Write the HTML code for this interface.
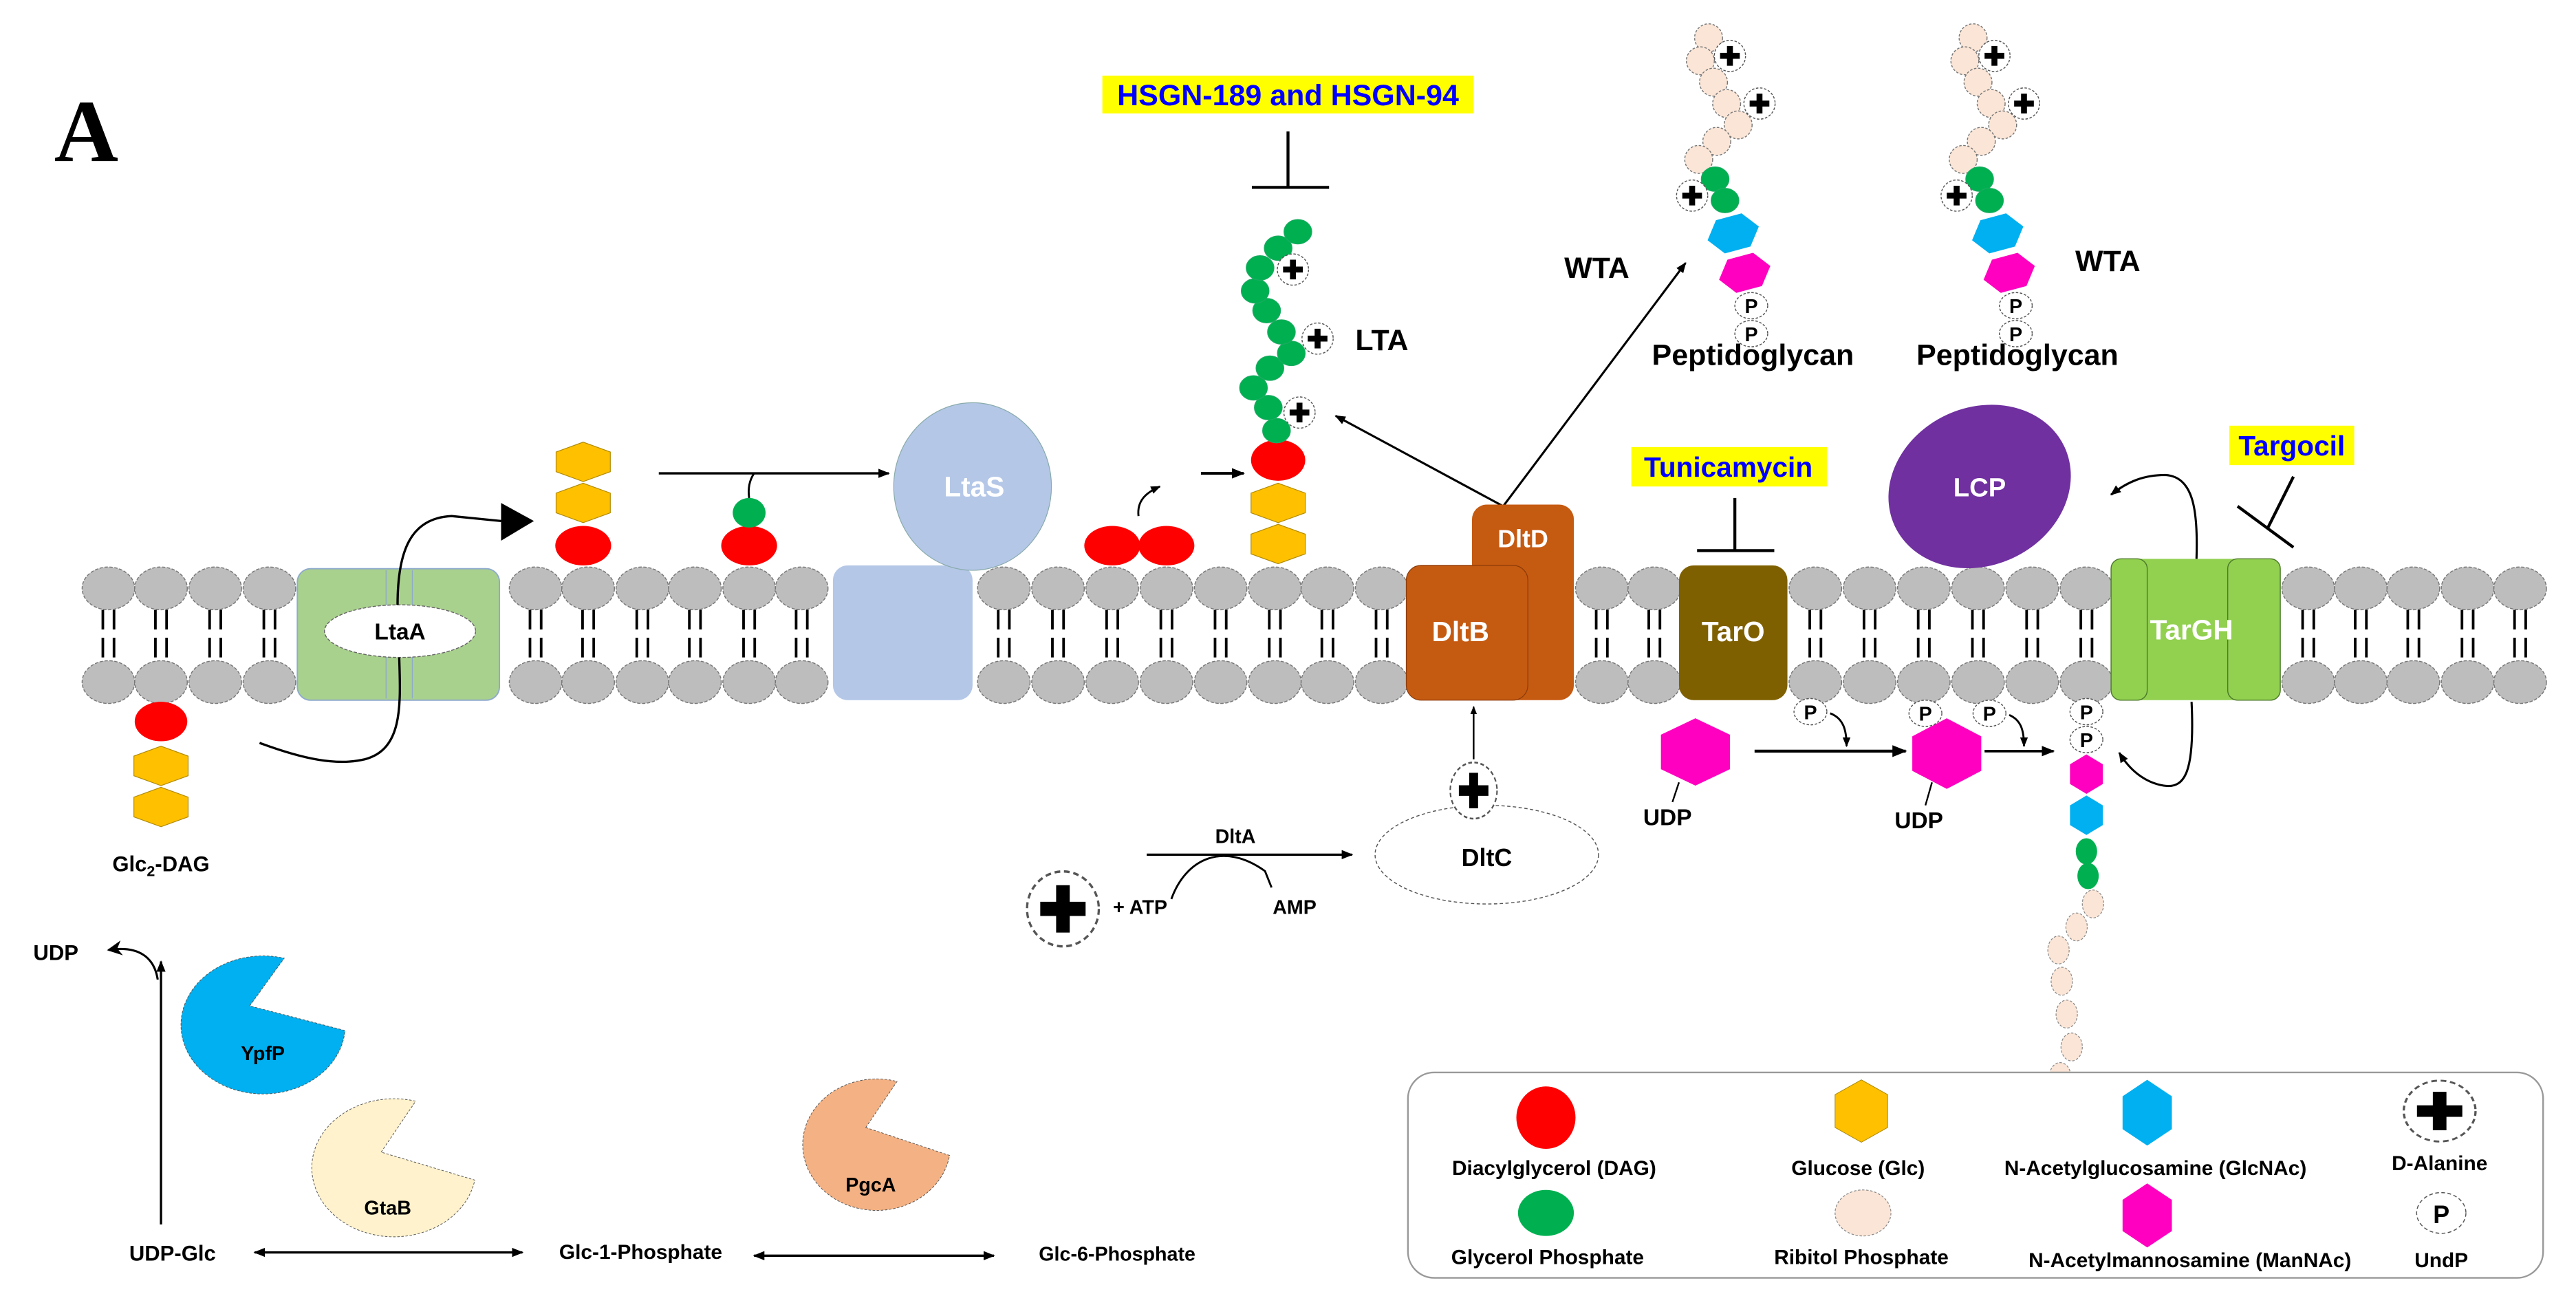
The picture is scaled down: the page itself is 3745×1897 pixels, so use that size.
<!DOCTYPE html>
<html><head><meta charset="utf-8"><style>
html,body{margin:0;padding:0;background:#fff;}
svg{display:block;}
text{font-family:"Liberation Sans",Arial,sans-serif;font-weight:bold;}
</style></head><body>
<svg width="3745" height="1897" viewBox="0 0 1568 794" preserveAspectRatio="none" xmlns="http://www.w3.org/2000/svg">
<defs>
<marker id="ar" viewBox="0 0 10 10" refX="9" refY="5" markerWidth="5" markerHeight="5" orient="auto"><path d="M0,1 L10,5 L0,9 z" fill="#000"/></marker>
<marker id="ar2" viewBox="0 0 10 10" refX="9" refY="5" markerWidth="7" markerHeight="7" orient="auto"><path d="M0,0 L10,5 L0,10 L3,5 z" fill="#000"/></marker>
<marker id="al" viewBox="0 0 10 10" refX="1" refY="5" markerWidth="5" markerHeight="5" orient="auto"><path d="M10,1 L0,5 L10,9 z" fill="#000"/></marker>
<g id="lip">
<line x1="-3.4" y1="-13" x2="-3.4" y2="-1" stroke="#000" stroke-width="1.6"/>
<line x1="3.4" y1="-13" x2="3.4" y2="-1" stroke="#000" stroke-width="1.6"/>
<line x1="-3.4" y1="4" x2="-3.4" y2="16" stroke="#000" stroke-width="1.6"/>
<line x1="3.4" y1="4" x2="3.4" y2="16" stroke="#000" stroke-width="1.6"/>
<ellipse cx="0" cy="-26" rx="16" ry="13" fill="#bdbdbd" stroke="#777" stroke-width="0.6" stroke-dasharray="2,1"/>
<ellipse cx="0" cy="31" rx="16" ry="13" fill="#bdbdbd" stroke="#777" stroke-width="0.6" stroke-dasharray="2,1"/>
</g>
<g id="hexY"><polygon points="0,-12 16.5,-6 16.5,6 0,12 -16.5,6 -16.5,-6" fill="#ffc000" stroke="#b08a00" stroke-width="0.5"/></g>
<g id="dala"><circle r="9.5" fill="#fff" stroke="#555" stroke-width="0.6" stroke-dasharray="1.5,1"/><path d="M-1.8,-6 h3.6 v4.2 h4.2 v3.6 h-4.2 v4.2 h-3.6 v-4.2 h-4.2 v-3.6 h4.2 z" fill="#000"/></g>
<g id="rib"><circle r="8.5" fill="#fbe5d6" stroke="#777" stroke-width="0.6" stroke-dasharray="1.5,1"/></g>
<g id="grn"><ellipse rx="8.5" ry="7.5" fill="#00b050" stroke="#2a6" stroke-width="0.4"/></g>
<g id="pc"><ellipse rx="10" ry="8" fill="#fff" stroke="#555" stroke-width="0.6" stroke-dasharray="1.5,1"/><text y="4.5" font-size="12" text-anchor="middle">P</text></g>
<polygon id="hexH" points="-17,0 -8.5,-11 8.5,-11 17,0 8.5,11 -8.5,11"/>
</defs>

<text x="33" y="98" font-size="54" style="font-family:'Liberation Serif',serif">A</text>

<g transform="translate(0,384)">
<use href="#lip" x="66"/><use href="#lip" x="98"/><use href="#lip" x="131"/><use href="#lip" x="164"/>
<use href="#lip" x="326"/><use href="#lip" x="358"/><use href="#lip" x="391"/><use href="#lip" x="423"/><use href="#lip" x="456"/><use href="#lip" x="488"/>
<use href="#lip" x="611"/><use href="#lip" x="644"/><use href="#lip" x="677"/><use href="#lip" x="710"/><use href="#lip" x="743"/><use href="#lip" x="776"/><use href="#lip" x="808"/><use href="#lip" x="841"/>
<use href="#lip" x="975"/><use href="#lip" x="1007"/>
<use href="#lip" x="1105"/><use href="#lip" x="1138"/><use href="#lip" x="1171"/><use href="#lip" x="1204"/><use href="#lip" x="1237"/><use href="#lip" x="1270"/>
<use href="#lip" x="1405"/><use href="#lip" x="1437"/><use href="#lip" x="1469"/><use href="#lip" x="1502"/><use href="#lip" x="1534"/>
</g>

<rect x="181" y="346" width="123" height="80" rx="8" fill="#a9d18e" stroke="#8eaacc" stroke-width="0.8"/>
<line x1="235" y1="347" x2="235" y2="425" stroke="#8eaacc" stroke-width="0.6"/>
<line x1="251" y1="347" x2="251" y2="425" stroke="#8eaacc" stroke-width="0.6"/>
<ellipse cx="243.5" cy="384" rx="46" ry="16" fill="#fff" stroke="#666" stroke-width="0.6" stroke-dasharray="2,1"/>
<text x="243.5" y="389" font-size="14" text-anchor="middle">LtaA</text>
<path d="M158,452 C185,462 205,466 222,462 C245,456 244,430 243,400" fill="none" stroke="#000" stroke-width="1.4"/>
<path d="M242,368 C242,335 250,315 275,314 L305,317" fill="none" stroke="#000" stroke-width="1.4"/>
<polygon points="305,306 325,317 305,329" fill="#000"/>

<ellipse cx="98" cy="439" rx="16" ry="12" fill="#f00"/>
<use href="#hexY" x="98" y="466"/><use href="#hexY" x="98" y="491"/>
<text x="98" y="530" font-size="13" text-anchor="middle">Glc<tspan font-size="9" dy="3">2</tspan><tspan dy="-3">-DAG</tspan></text>

<ellipse cx="355" cy="332" rx="17" ry="12" fill="#f00"/>
<use href="#hexY" x="355" y="306"/><use href="#hexY" x="355" y="281"/>
<ellipse cx="456" cy="332" rx="17" ry="12" fill="#f00"/>
<ellipse cx="456" cy="312" rx="10" ry="9" fill="#00b050"/>
<line x1="401" y1="288" x2="541" y2="288" stroke="#000" stroke-width="1.4" marker-end="url(#ar)"/>
<path d="M456,303 C455,296 457,291 459,288" fill="none" stroke="#000" stroke-width="1.2"/>

<rect x="507" y="344" width="85" height="82" rx="9" fill="#b4c7e7"/>
<ellipse cx="592" cy="296" rx="48" ry="51" fill="#b4c7e7" stroke="#8aa" stroke-width="0.5"/>
<text x="593" y="302" font-size="17" fill="#fff" text-anchor="middle">LtaS</text>

<ellipse cx="677" cy="332" rx="17" ry="12" fill="#f00"/>
<ellipse cx="710" cy="332" rx="17" ry="12" fill="#f00"/>
<path d="M693,314 C692,305 697,300 706,296" fill="none" stroke="#000" stroke-width="1.2" marker-end="url(#ar)"/>
<line x1="731" y1="288" x2="757" y2="288" stroke="#000" stroke-width="1.6" marker-end="url(#ar)"/>

<ellipse cx="778" cy="280" rx="16.5" ry="12.5" fill="#f00"/>
<use href="#hexY" x="778" y="306"/><use href="#hexY" x="778" y="331"/>
<use href="#grn" x="777" y="262"/><use href="#grn" x="772" y="248"/><use href="#grn" x="763" y="236"/><use href="#grn" x="773" y="224"/><use href="#grn" x="786" y="215"/><use href="#grn" x="780" y="202"/><use href="#grn" x="771" y="189"/><use href="#grn" x="764" y="177"/><use href="#grn" x="767" y="163"/><use href="#grn" x="778" y="151"/><use href="#grn" x="790" y="141"/>
<use href="#dala" x="787" y="164"/><use href="#dala" x="802" y="206"/><use href="#dala" x="791" y="251"/>
<text x="825" y="213" font-size="18">LTA</text>

<rect x="671" y="46" width="226" height="23" fill="#ffff00"/>
<text x="784" y="64" font-size="18" fill="#0000ff" text-anchor="middle">HSGN-189 and HSGN-94</text>
<line x1="784" y1="80" x2="784" y2="114" stroke="#000" stroke-width="1.8"/>
<line x1="762" y1="114" x2="809" y2="114" stroke="#000" stroke-width="1.8"/>

<line x1="915" y1="308" x2="813" y2="253" stroke="#000" stroke-width="1.3" marker-end="url(#ar)"/>
<line x1="915" y1="308" x2="1026" y2="160" stroke="#000" stroke-width="1.3" marker-end="url(#ar)"/>
<text x="972" y="169" font-size="18" text-anchor="middle">WTA</text>
<rect x="896" y="307" width="62" height="119" rx="9" fill="#c55a11"/>
<text x="927" y="333" font-size="15" fill="#fff" text-anchor="middle">DltD</text>
<rect x="856" y="344" width="74" height="82" rx="9" fill="#c55a11" stroke="#8a3a08" stroke-width="0.5"/>
<text x="889" y="390" font-size="17" fill="#fff" text-anchor="middle">DltB</text>
<line x1="897" y1="462" x2="897" y2="430" stroke="#000" stroke-width="1" marker-end="url(#ar)"/>
<ellipse cx="905" cy="520" rx="68" ry="30" fill="#fff" stroke="#555" stroke-width="0.6" stroke-dasharray="2,1.5"/>
<text x="905" y="527" font-size="15" text-anchor="middle">DltC</text>
<g transform="translate(897,481) scale(1.5,1.8)"><use href="#dala"/></g>
<line x1="698" y1="520" x2="823" y2="520" stroke="#000" stroke-width="1.4" marker-end="url(#ar)"/>
<text x="752" y="513" font-size="12" text-anchor="middle">DltA</text>
<path d="M713,547 C722,522 745,512 770,530 L774,540" fill="none" stroke="#000" stroke-width="1.2"/>
<text x="694" y="556" font-size="12" text-anchor="middle">+ ATP</text>
<text x="788" y="556" font-size="12" text-anchor="middle">AMP</text>
<g transform="translate(647,553) scale(2.3,2.4)"><use href="#dala"/></g>

<rect x="993" y="272" width="119" height="24" fill="#ffff00"/>
<text x="1052" y="290" font-size="17" fill="#0000ff" text-anchor="middle">Tunicamycin</text>
<line x1="1056" y1="303" x2="1056" y2="335" stroke="#000" stroke-width="1.8"/>
<line x1="1033" y1="335" x2="1080" y2="335" stroke="#000" stroke-width="1.8"/>
<rect x="1022" y="344" width="66" height="82" rx="9" fill="#7f6000"/>
<text x="1055" y="390" font-size="17" fill="#fff" text-anchor="middle">TarO</text>

<polygon points="1032,437 1053,447 1053,468 1032,478 1011,468 1011,447" fill="#ff00c0"/>
<line x1="1022" y1="476" x2="1018" y2="488" stroke="#000" stroke-width="1"/>
<text x="1015" y="502" font-size="14" text-anchor="middle">UDP</text>
<line x1="1068" y1="457" x2="1160" y2="457" stroke="#000" stroke-width="1.8" marker-end="url(#ar)"/>
<use href="#pc" x="1102" y="433"/>
<path d="M1114,434 C1122,437 1124,444 1124,454" fill="none" stroke="#000" stroke-width="1.2" marker-end="url(#ar)"/>
<polygon points="1185,437 1206,448 1206,469 1185,480 1164,469 1164,448" fill="#ff00c0"/>
<line x1="1176" y1="476" x2="1172" y2="490" stroke="#000" stroke-width="1"/>
<text x="1168" y="504" font-size="14" text-anchor="middle">UDP</text>
<use href="#pc" x="1172" y="434"/><use href="#pc" x="1211" y="434"/>
<path d="M1223,435 C1230,438 1232,444 1232,454" fill="none" stroke="#000" stroke-width="1.2" marker-end="url(#ar)"/>
<line x1="1208" y1="457" x2="1250" y2="457" stroke="#000" stroke-width="1.6" marker-end="url(#ar)"/>
<use href="#pc" x="1270" y="433"/><use href="#pc" x="1270" y="450"/>
<polygon points="1270,459 1280,465 1280,477 1270,483 1260,477 1260,465" fill="#ff00c0"/>
<polygon points="1270,484 1280,490 1280,502 1270,508 1260,502 1260,490" fill="#00b0f0"/>
<ellipse cx="1270" cy="518" rx="6.5" ry="8" fill="#00b050"/>
<ellipse cx="1271" cy="533" rx="6.5" ry="8" fill="#00b050"/>
<g fill="#fbe5d6" stroke="#888" stroke-width="0.5" stroke-dasharray="1.5,1">
<ellipse cx="1274" cy="550" rx="6.5" ry="8.5"/><ellipse cx="1264" cy="564" rx="6.5" ry="8.5"/><ellipse cx="1253" cy="578" rx="6.5" ry="8.5"/><ellipse cx="1255" cy="597" rx="6.5" ry="8.5"/><ellipse cx="1258" cy="617" rx="6.5" ry="8.5"/><ellipse cx="1261" cy="637" rx="6.5" ry="8.5"/><ellipse cx="1254" cy="655" rx="6.5" ry="8.5"/>
</g>

<rect x="1285" y="340" width="103" height="86" rx="6" fill="#92d050"/>
<rect x="1285" y="340" width="22" height="86" rx="6" fill="#92d050" stroke="#4c7a2a" stroke-width="0.6"/>
<rect x="1356" y="340" width="32" height="86" rx="6" fill="#92d050" stroke="#4c7a2a" stroke-width="0.6"/>
<text x="1334" y="389" font-size="17" fill="#fff" text-anchor="middle">TarGH</text>
<path d="M1334,427 C1336,470 1330,480 1317,478 C1305,476 1296,468 1290,458" fill="none" stroke="#000" stroke-width="1.3" marker-end="url(#ar)"/>
<path d="M1337,340 C1338,310 1335,290 1318,289 C1305,289 1295,293 1285,301" fill="none" stroke="#000" stroke-width="1.3" marker-end="url(#ar)"/>

<ellipse cx="1205" cy="296" rx="57" ry="48" transform="rotate(-25 1205 296)" fill="#7030a0"/>
<text x="1205" y="302" font-size="16" fill="#fff" text-anchor="middle">LCP</text>

<rect x="1357" y="259" width="76" height="24" fill="#ffff00"/>
<text x="1395" y="277" font-size="17" fill="#0000ff" text-anchor="middle">Targocil</text>
<line x1="1396" y1="290" x2="1380" y2="322" stroke="#000" stroke-width="1.8"/>
<line x1="1362" y1="308" x2="1396" y2="333" stroke="#000" stroke-width="1.8"/>

<g id="wta1">
<use href="#rib" x="1040" y="23"/><use href="#rib" x="1035" y="37"/><use href="#rib" x="1043" y="50"/><use href="#rib" x="1051" y="63"/><use href="#rib" x="1058" y="76"/><use href="#rib" x="1045" y="86"/><use href="#rib" x="1034" y="97"/>
<use href="#dala" x="1053" y="34"/><use href="#dala" x="1071" y="63"/>
<use href="#grn" x="1044" y="109"/><use href="#grn" x="1050" y="122"/>
<use href="#dala" x="1030" y="119"/>
<use href="#hexH" fill="#00b0f0" transform="translate(1055,142) rotate(-15) scale(0.95,0.95)"/>
<use href="#hexH" fill="#ff00c0" transform="translate(1062,166) rotate(-15) scale(0.95,0.95)"/>
<use href="#pc" x="1066" y="186"/><use href="#pc" x="1066" y="203"/>
<text x="1067" y="222" font-size="18" text-anchor="middle">Peptidoglycan</text>
</g>
<use href="#wta1" x="161"/>
<text x="1283" y="165" font-size="18" text-anchor="middle">WTA</text>

<line x1="98" y1="745" x2="98" y2="585" stroke="#000" stroke-width="1.4" marker-end="url(#ar)"/>
<path d="M96,596 C94,583 85,575 66,578" fill="none" stroke="#000" stroke-width="1.3" marker-end="url(#ar2)"/>
<text x="34" y="584" font-size="13" text-anchor="middle">UDP</text>
<path d="M152,612 L173,583 A50,42 0 1,0 210,627 Z" fill="#00b0f0" stroke="#555" stroke-width="0.4" stroke-dasharray="1.5,1"/>
<text x="160" y="645" font-size="12" text-anchor="middle">YpfP</text>
<path d="M232,701 L253,670 A50,42 0 1,0 289,718 Z" fill="#fff2cc" stroke="#555" stroke-width="0.4" stroke-dasharray="1.5,1"/>
<text x="236" y="739" font-size="12" text-anchor="middle">GtaB</text>
<path d="M527,686 L546,658 A45,40 0 1,0 578,703 Z" fill="#f4b183" stroke="#555" stroke-width="0.4" stroke-dasharray="1.5,1"/>
<text x="530" y="725" font-size="12" text-anchor="middle">PgcA</text>
<line x1="155" y1="762" x2="318" y2="762" stroke="#000" stroke-width="1.4" marker-start="url(#al)" marker-end="url(#ar)"/>
<line x1="459" y1="764" x2="605" y2="764" stroke="#000" stroke-width="1.4" marker-start="url(#al)" marker-end="url(#ar)"/>
<text x="105" y="767" font-size="13" text-anchor="middle">UDP-Glc</text>
<text x="390" y="766" font-size="12.5" text-anchor="middle">Glc-1-Phosphate</text>
<text x="680" y="767" font-size="12" text-anchor="middle">Glc-6-Phosphate</text>

<rect x="857" y="652.5" width="691" height="125" rx="16" fill="#fff" stroke="#999" stroke-width="1"/>
<ellipse cx="941" cy="680" rx="18" ry="19" fill="#f00"/>
<text x="946" y="715" font-size="12.5" text-anchor="middle">Diacylglycerol (DAG)</text>
<polygon points="1133,657 1149,666 1149,686 1133,695 1117,686 1117,666" fill="#ffc000" stroke="#a80" stroke-width="0.4"/>
<text x="1131" y="715" font-size="12.5" text-anchor="middle">Glucose (Glc)</text>
<polygon points="1307,657 1322,667 1322,687 1307,697 1292,687 1292,667" fill="#00b0f0"/>
<text x="1312" y="715" font-size="12.5" text-anchor="middle">N-Acetylglucosamine (GlcNAc)</text>
<g transform="translate(1485,676) scale(2.3,1.95)"><use href="#dala"/></g>
<text x="1485" y="712" font-size="12.5" text-anchor="middle">D-Alanine</text>
<ellipse cx="941" cy="738" rx="17" ry="14" fill="#00b050"/>
<text x="942" y="769" font-size="12.5" text-anchor="middle">Glycerol Phosphate</text>
<ellipse cx="1134" cy="738" rx="17" ry="14" fill="#fbe5d6" stroke="#888" stroke-width="0.5" stroke-dasharray="1.5,1"/>
<text x="1133" y="769" font-size="12.5" text-anchor="middle">Ribitol Phosphate</text>
<polygon points="1307,720 1322,730 1322,749 1307,759 1292,749 1292,730" fill="#ff00c0"/>
<text x="1333" y="771" font-size="12.5" text-anchor="middle">N-Acetylmannosamine (ManNAc)</text>
<g transform="translate(1486,738) scale(1.5,1.55)"><ellipse rx="10" ry="8" fill="#fff" stroke="#555" stroke-width="0.4" stroke-dasharray="1.5,1"/><text y="4" font-size="10" text-anchor="middle">P</text></g>
<text x="1486" y="771" font-size="12.5" text-anchor="middle">UndP</text>
</svg>
</body></html>
